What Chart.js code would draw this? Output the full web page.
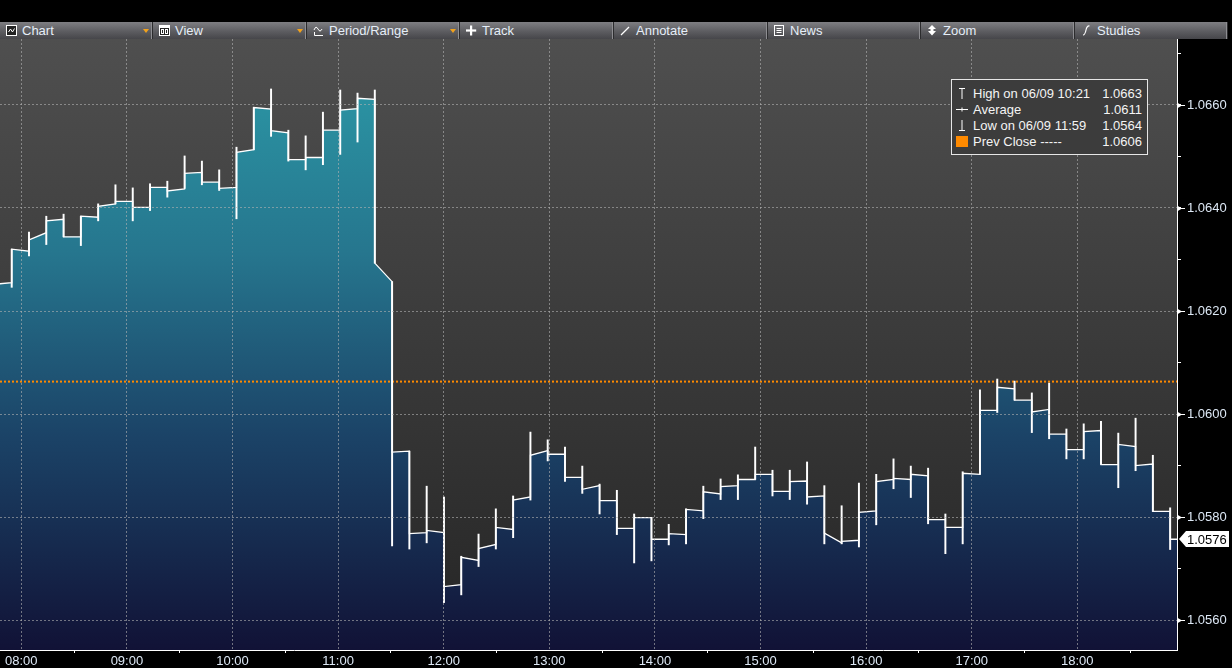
<!DOCTYPE html>
<html>
<head>
<meta charset="utf-8">
<title>Intraday chart</title>
<script src="https://cdn.jsdelivr.net/npm/chart.js"></script>
<style>
    body {
        margin: 0;
        width: 1232px;
        height: 668px;
        overflow: hidden;
        background: #000;
        font-family: "Liberation Sans", Arial, sans-serif;
    }

    #toolbar {
        position: absolute;
        left: 0;
        top: 22px;
        width: 1228px;
        height: 17px;
        background: linear-gradient(#7e7e82, #5d5d61 55%, #46464a);
    }

    .tb {
        position: absolute;
        top: 0;
        height: 17px;
        box-sizing: border-box;
        border-right: 1px solid #2c2c2e;
        box-shadow: inset -1px 0 #8e8e92;
        color: #e6eef8;
        font-size: 13px;
        line-height: 17px;
    }

    .tb svg {
        position: absolute;
        left: 6px;
        top: 3px;
    }

    .tb span {
        position: absolute;
        left: 22px;
        top: 0;
        white-space: nowrap;
    }

    .tb .dd {
        position: absolute;
        right: 3px;
        top: 7px;
        width: 0;
        height: 0;
        border-left: 3px solid transparent;
        border-right: 3px solid transparent;
        border-top: 4px solid #f2a21c;
    }

    #wrap {
        position: absolute;
        left: 0;
        top: 39px;
        width: 1232px;
        height: 629px;
    }

    #legend {
        position: absolute;
        left: 951px;
        top: 79px;
        width: 197px;
        height: 76px;
        box-sizing: border-box;
        border: 1px solid #e6e6e6;
        background: #3c3c3c;
        color: #f4f4f4;
        font-size: 13px;
    }

    #legend .row {
        position: absolute;
        left: 0;
        right: 0;
        height: 16px;
        line-height: 16px;
    }

    #legend .row svg {
        position: absolute;
        left: 4px;
        top: 2px;
    }

    #legend .lab {
        position: absolute;
        left: 21px;
        white-space: nowrap;
    }

    #legend .val {
        position: absolute;
        right: 5px;
    }
</style>
</head>

<body>
    <div id="toolbar"></div>
    <div id="wrap"><canvas id="myChart" width="1232" height="629"></canvas></div>
    <div id="legend"></div>

<script>
    // bars of ~9.8 minutes, x in minutes after midnight
    const firstBarMin = 464.73;
    const barMin = 9.824;
    const xMin = 467.9;
    const xMax = 1136.65;
    const yMin = 1.05542;
    const yMax = 1.06728;

    const opens = [
        1.06252,
        1.06320, 1.06338, 1.06375, 1.06344, 1.06384, 1.06403, 1.06413, 1.06401, 1.06440, 1.06433,
        1.06467, 1.06450, 1.06438, 1.06508, 1.06595, 1.06550, 1.06494, 1.06498, 1.06551, 1.06590,
        1.06613, 1.06293, 1.05926, 1.05768, 1.05774, 1.05665, 1.05722, 1.05739, 1.05780, 1.05833,
        1.05920, 1.05922, 1.05877, 1.05854, 1.05832, 1.05778, 1.05799, 1.05757, 1.05768, 1.05815,
        1.05849, 1.05859, 1.05873, 1.05883, 1.05850, 1.05869, 1.05839, 1.05769, 1.05753, 1.05809,
        1.05869, 1.05875, 1.05883, 1.05795, 1.05780, 1.05885, 1.06007, 1.06052, 1.06027, 1.06004,
        1.05961, 1.05931, 1.05966, 1.05902, 1.05941, 1.05900, 1.05811, 1.05757
    ];
    const closes = [
        1.06255,
        1.06316, 1.06352, 1.06378, 1.06344, 1.06382, 1.06408, 1.06413, 1.06401, 1.06440, 1.06437,
        1.06469, 1.06450, 1.06440, 1.06513, 1.06592, 1.06546, 1.06494, 1.06498, 1.06551, 1.06593,
        1.06611, 1.06257, 1.05928, 1.05770, 1.05770, 1.05669, 1.05716, 1.05747, 1.05776, 1.05839,
        1.05929, 1.05922, 1.05877, 1.05861, 1.05832, 1.05778, 1.05799, 1.05757, 1.05766, 1.05812,
        1.05845, 1.05861, 1.05873, 1.05883, 1.05850, 1.05870, 1.05841, 1.05750, 1.05755, 1.05812,
        1.05873, 1.05873, 1.05880, 1.05795, 1.05780, 1.05883, 1.06007, 1.06049, 1.06027, 1.06009,
        1.05961, 1.05931, 1.05968, 1.05902, 1.05937, 1.05903, 1.05811, 1.05757
    ];
    const highs = [
        1.06256,
        1.06320, 1.06353, 1.06384, 1.06388, 1.06384, 1.06408, 1.06445, 1.06439, 1.06447, 1.06452,
        1.06501, 1.06491, 1.06474, 1.06518, 1.06595, 1.06631, 1.06551, 1.06540, 1.06586, 1.06629,
        1.06623, 1.06629, 1.06257, 1.05928, 1.05860, 1.05839, 1.05724, 1.05767, 1.05816, 1.05841,
        1.05965, 1.05950, 1.05936, 1.05899, 1.05864, 1.05852, 1.05806, 1.05799, 1.05786, 1.05816,
        1.05860, 1.05874, 1.05882, 1.05936, 1.05891, 1.05891, 1.05907, 1.05861, 1.05822, 1.05866,
        1.05883, 1.05913, 1.05899, 1.05895, 1.05806, 1.05888, 1.06047, 1.06068, 1.06064, 1.06041,
        1.06060, 1.05971, 1.05981, 1.05986, 1.05963, 1.05992, 1.05920, 1.05818
    ];
    const lows = [
        1.06246,
        1.06246, 1.06307, 1.06329, 1.06344, 1.06327, 1.06375, 1.06408, 1.06375, 1.06395, 1.06421,
        1.06438, 1.06445, 1.06434, 1.06379, 1.06513, 1.06539, 1.06491, 1.06474, 1.06484, 1.06504,
        1.06528, 1.06293, 1.05744, 1.05738, 1.05750, 1.05634, 1.05649, 1.05704, 1.05738, 1.05760,
        1.05833, 1.05909, 1.05869, 1.05846, 1.05806, 1.05766, 1.05711, 1.05715, 1.05746, 1.05748,
        1.05797, 1.05834, 1.05834, 1.05873, 1.05841, 1.05834, 1.05825, 1.05748, 1.05748, 1.05742,
        1.05785, 1.05855, 1.05838, 1.05787, 1.05729, 1.05748, 1.05883, 1.06003, 1.06027, 1.05964,
        1.05952, 1.05913, 1.05913, 1.05902, 1.05857, 1.05890, 1.05811, 1.05737
    ];
    const prevClose = 1.06063;

    const hourTicks = [480, 540, 600, 660, 720, 780, 840, 900, 960, 1020, 1080];
    const halfHourTicks = [510, 570, 630, 690, 750, 810, 870, 930, 990, 1050, 1110];
    const yMajorTicks = [1.0560, 1.0580, 1.0600, 1.0620, 1.0640, 1.0660];
    const yMinorTicks = [1.0570, 1.0590, 1.0610, 1.0630, 1.0650, 1.0670];

    const toolbarLabels = ['Chart', 'View', 'Period/Range', 'Track', 'Annotate', 'News', 'Zoom', 'Studies'];
    const toolbarLefts = [0, 153, 307, 460, 614, 768, 921, 1075, 1228];
    const legendLabels = ['High on 06/09 10:21', 'Average', 'Low on 06/09 11:59', 'Prev Close -----'];
    const legendValues = ['1.0663', '1.0611', '1.0564', '1.0606'];

    const labelColor = '#dde8f5';
    const gridColor = 'rgba(178,178,178,0.6)';
    const clear = 'rgba(0,0,0,0)';

    // ---- toolbar ----
    const icons = [
        '<rect x="0.5" y="0.5" width="10" height="10" fill="#222" stroke="#fff"/><polyline points="2.5,7 4.5,4 6.5,7 8.5,3.5" fill="none" stroke="#fff"/>',
        '<rect x="0.5" y="0.5" width="10" height="10" fill="#222" stroke="#fff"/><rect x="0" y="0" width="11" height="3" fill="#fff"/><rect x="2.5" y="4.5" width="2" height="4" fill="none" stroke="#fff"/><rect x="6.5" y="4.5" width="2" height="4" fill="none" stroke="#fff"/>',
        '<path d="M1 5 Q3 0 5 4 T9 4" fill="none" stroke="#fff"/><path d="M1.5 7 V10.5 H10" fill="none" stroke="#fff"/>',
        '<rect x="4" y="0.5" width="2.2" height="10" fill="#fff"/><rect x="0" y="4.4" width="10.2" height="2.2" fill="#fff"/>',
        '<line x1="1" y1="10" x2="9" y2="2" stroke="#fff" stroke-width="1.2"/>',
        '<rect x="0.5" y="0.5" width="9" height="10" fill="none" stroke="#fff"/><path d="M2.5 3.5 H7.5 M2.5 5.5 H7.5 M2.5 7.5 H7.5" stroke="#fff"/>',
        '<path d="M5 0 L9 4 H6.5 V6 H9 L5 10.5 L1 6 H3.5 V4 H1 Z" fill="#fff"/>',
        '<path d="M2 10 Q4 10 5 5 Q6 0.5 8.5 1" fill="none" stroke="#fff" stroke-width="1.2"/>'
    ];
    const toolbar = document.getElementById('toolbar');
    toolbarLabels.forEach(function (label, i) {
        var div = document.createElement('div');
        div.className = 'tb';
        div.style.left = toolbarLefts[i] + 'px';
        div.style.width = (toolbarLefts[i + 1] - toolbarLefts[i]) + 'px';
        div.innerHTML = '<svg width="11" height="11">' + icons[i] + '</svg><span>' + label + '</span>' +
            (i < 3 ? '<div class="dd"></div>' : '');
        toolbar.appendChild(div);
    });

    // ---- legend box ----
    const legendIcons = [
        '<path d="M3 0.5 H9 M6 0.5 V11" stroke="#fff" fill="none"/>',
        '<path d="M0 5.5 H12 M6 3.5 V7.5" stroke="#fff" fill="none"/>',
        '<path d="M6 0 V10.5 M3 10.5 H9" stroke="#fff" fill="none"/>',
        '<rect x="0" y="0" width="12" height="11" fill="#ff8a00"/>'
    ];
    const legend = document.getElementById('legend');
    legendLabels.forEach(function (label, i) {
        var row = document.createElement('div');
        row.className = 'row';
        row.style.top = (6 + 16 * i) + 'px';
        row.innerHTML = '<svg width="13" height="12">' + legendIcons[i] + '</svg><span class="lab">' + label +
            '</span><span class="val">' + legendValues[i] + '</span>';
        legend.appendChild(row);
    });

    // ---- chart data ----
    const linePts = [];
    opens.forEach(function (o, i) {
        var t = firstBarMin + i * barMin;
        linePts.push({ x: t, y: o });
        linePts.push({ x: t + barMin, y: closes[i] });
    });
    const wickPts = highs.map(function (h, i) {
        return { x: firstBarMin + i * barMin, y: [lows[i], h] };
    });

    function areaFill(context) {
        var chart = context.chart;
        var a = chart.chartArea;
        if (!a) return clear;
        var g = chart.ctx.createLinearGradient(0, a.top, 0, a.bottom);
        g.addColorStop(0, '#2c9ca9');
        g.addColorStop(0.35, '#26768e');
        g.addColorStop(0.65, '#1b4367');
        g.addColorStop(1, '#111236');
        return g;
    }

    function near(v, list) {
        return list.some(function (m) { return Math.abs(m - v) < 1e-7; });
    }

    function hhmm(v) {
        var h = Math.floor(v / 60);
        return (h < 10 ? '0' : '') + h + ':00';
    }

    // plot background
    const chartBg = {
        id: 'chartBg',
        beforeDraw(chart) {
            var ctx = chart.ctx, a = chart.chartArea;
            var g = ctx.createLinearGradient(0, a.top, 0, a.bottom);
            g.addColorStop(0, '#4f4f4f');
            g.addColorStop(1, '#252525');
            ctx.save();
            ctx.fillStyle = g;
            ctx.fillRect(a.left, a.top, a.right - a.left, a.bottom - a.top);
            ctx.restore();
        }
    };

    // arrows at the price labels and the last price flag
    const axisMarks = {
        id: 'axisMarks',
        afterDraw(chart) {
            var ctx = chart.ctx, a = chart.chartArea, y = chart.scales.y;
            ctx.save();
            ctx.fillStyle = '#fff';
            ctx.strokeStyle = '#fff';
            ctx.lineWidth = 1;
            yMajorTicks.forEach(function (v) {
                var py = Math.round(y.getPixelForValue(v)) + 0.5;
                ctx.beginPath();
                ctx.moveTo(a.right, py - 3);
                ctx.lineTo(a.right + 5, py);
                ctx.lineTo(a.right, py + 3);
                ctx.closePath();
                ctx.fill();
                ctx.beginPath();
                ctx.moveTo(a.right, py);
                ctx.lineTo(a.right + 8, py);
                ctx.stroke();
            });
            var last = closes[closes.length - 1];
            var ly = Math.round(y.getPixelForValue(last));
            ctx.beginPath();
            ctx.moveTo(a.right + 2, ly);
            ctx.lineTo(a.right + 9, ly - 8);
            ctx.lineTo(a.right + 52, ly - 8);
            ctx.lineTo(a.right + 52, ly + 8);
            ctx.lineTo(a.right + 9, ly + 8);
            ctx.closePath();
            ctx.fill();
            ctx.fillStyle = '#000';
            ctx.font = '13px "Liberation Sans"';
            ctx.textBaseline = 'middle';
            ctx.fillText(last.toFixed(4), a.right + 10, ly + 1);
            ctx.restore();
        }
    };

    Chart.defaults.font.family = '"Liberation Sans", Arial, sans-serif';

    const ctx = document.getElementById('myChart').getContext('2d');
    const chart = new Chart(ctx, {
        type: 'line',
        data: {
            datasets: [
                {
                    data: linePts,
                    fill: 'start',
                    backgroundColor: areaFill,
                    borderWidth: 0,
                    pointRadius: 0,
                    order: 4
                },
                {
                    data: [{ x: xMin, y: prevClose }, { x: xMax, y: prevClose }],
                    borderColor: '#ff8a00',
                    borderWidth: 2,
                    borderDash: [2, 2],
                    fill: false,
                    pointRadius: 0,
                    order: 3
                },
                {
                    data: linePts,
                    borderColor: '#ffffff',
                    borderWidth: 1.3,
                    fill: false,
                    pointRadius: 0,
                    order: 2
                },
                {
                    type: 'bar',
                    data: wickPts,
                    backgroundColor: '#ffffff',
                    barThickness: 1.3,
                    order: 1
                }
            ]
        },
        options: {
            responsive: false,
            animation: false,
            devicePixelRatio: 1,
            layout: { padding: 0 },
            plugins: {
                legend: { display: false },
                tooltip: { enabled: false }
            },
            scales: {
                x: {
                    type: 'linear',
                    min: xMin,
                    max: xMax,
                    offset: false,
                    afterBuildTicks: function (s) {
                        s.ticks = hourTicks.concat(halfHourTicks).sort(function (a, b) { return a - b; })
                            .map(function (v) { return { value: v }; });
                    },
                    afterFit: function (s) {
                        s.height = 18;
                        s.paddingLeft = 0;
                        s.paddingRight = 0;
                    },
                    ticks: {
                        autoSkip: false,
                        maxRotation: 0,
                        color: labelColor,
                        font: { size: 13 },
                        padding: 1,
                        callback: function (v) { return hourTicks.indexOf(v) >= 0 ? hhmm(v) : ''; }
                    },
                    grid: {
                        offset: false,
                        z: 1,
                        lineWidth: 1,
                        tickLength: 3,
                        color: function (c) { return c.tick && hourTicks.indexOf(c.tick.value) >= 0 ? gridColor : clear; },
                        tickColor: function (c) { return c.tick && hourTicks.indexOf(c.tick.value) >= 0 ? clear : '#ffffff'; }
                    },
                    border: { color: '#ffffff', width: 1, dash: [2, 2], z: 2 }
                },
                y: {
                    type: 'linear',
                    position: 'right',
                    min: yMin,
                    max: yMax,
                    afterBuildTicks: function (s) {
                        s.ticks = yMajorTicks.concat(yMinorTicks).sort(function (a, b) { return a - b; })
                            .map(function (v) { return { value: v }; });
                    },
                    afterFit: function (s) {
                        s.width = 55;
                        s.paddingTop = 0;
                        s.paddingBottom = 0;
                    },
                    ticks: {
                        autoSkip: false,
                        color: labelColor,
                        font: { size: 13 },
                        padding: 6,
                        callback: function (v) { return near(v, yMajorTicks) ? v.toFixed(4) : ''; }
                    },
                    grid: {
                        z: 1,
                        lineWidth: 1,
                        tickLength: 4,
                        color: function (c) { return c.tick && near(c.tick.value, yMajorTicks) ? gridColor : clear; },
                        tickColor: '#ffffff'
                    },
                    border: { color: '#ffffff', width: 1, dash: [2, 2], z: 2 }
                }
            }
        },
        plugins: [chartBg, axisMarks]
    });
</script>
</body>
</html>
